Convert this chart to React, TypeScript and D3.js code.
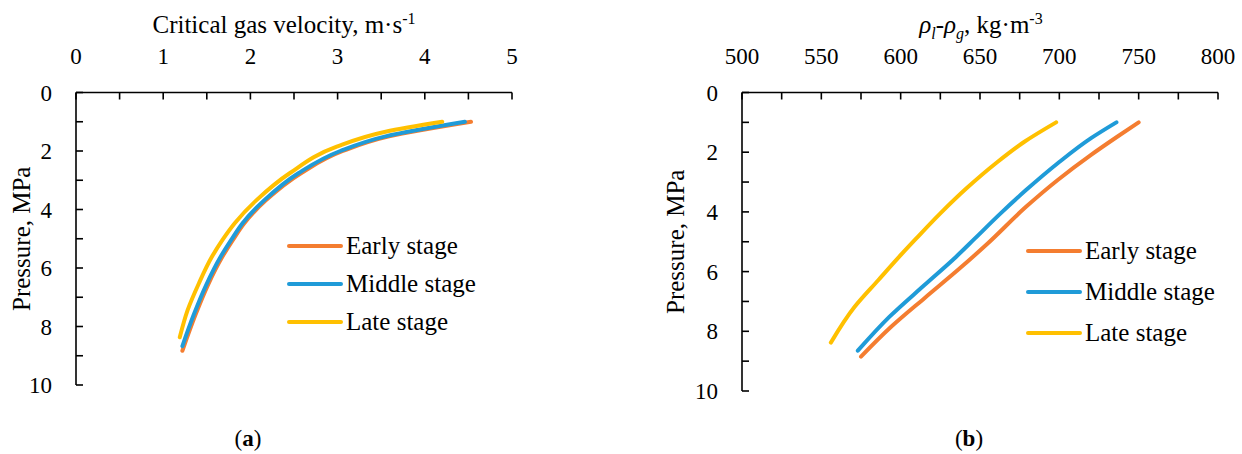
import React from "react";
import * as d3 from "d3";

// ---------- Data: panel (a) critical gas velocity vs pressure ----------
const pressureEarlyA = [1.0, 1.5, 2.0, 2.76, 3.68, 4.47, 5.04, 5.61, 6.6, 7.6, 8.83];
const velocityEarlyA = [4.53, 3.59, 3.06, 2.58, 2.18, 1.93, 1.8, 1.68, 1.51, 1.37, 1.22];
const pressureMiddleA = [1.0, 1.5, 2.0, 2.76, 3.68, 4.47, 5.04, 5.61, 6.6, 7.6, 8.67];
const velocityMiddleA = [4.46, 3.55, 3.03, 2.55, 2.16, 1.91, 1.78, 1.66, 1.49, 1.35, 1.22];
const pressureLateA = [1.0, 1.34, 1.85, 2.76, 3.68, 4.47, 5.04, 5.61, 6.52, 7.44, 8.37];
const velocityLateA = [4.2, 3.55, 2.99, 2.45, 2.07, 1.82, 1.68, 1.56, 1.41, 1.28, 1.19];

// ---------- Data: panel (b) density difference vs pressure ----------
const pressureEarlyB = [1.0, 1.5, 2.09, 2.93, 3.83, 5.05, 5.95, 6.89, 7.85, 8.85];
const densityEarlyB = [750, 736, 720, 699, 679, 655, 636, 615, 594, 575];
const pressureMiddleB = [1.0, 1.53, 2.37, 3.27, 4.05, 4.88, 5.5, 6.45, 7.51, 8.65];
const densityMiddleB = [736, 720, 699, 679, 663, 647, 635, 615, 593, 573];
const pressureLateB = [1.0, 1.65, 2.37, 3.21, 4.05, 4.88, 5.39, 6.28, 7.18, 8.38];
const densityLateB = [698, 678, 660, 641.5, 625, 610, 601, 586, 571, 556];

const seriesNames = ["Early stage", "Middle stage", "Late stage"];
const seriesColors = ["#F47D30", "#1F9BD8", "#FFC000"];

const xTicksA = [0, 1, 2, 3, 4, 5];
const xTicksB = [500, 550, 600, 650, 700, 750, 800];
const yTicks = [0, 2, 4, 6, 8, 10];

const FONT = "Liberation Serif, DejaVu Serif, serif";

type Series = { name: string; color: string; p: number[]; v: number[] };

function Panel(props: {
  x0: number; x1: number; y0: number; y1: number;
  xDomain: [number, number]; xMinorStep: number; xTicks: number[];
  series: Series[]; legendX: number; legendY: number; legendGap: number;
  yLabelX: number; title: React.ReactNode; titleX: number; tag: string; tagX: number;
}) {
  const { x0, x1, y0, y1, xDomain, xMinorStep, xTicks, series } = props;
  const xs = d3.scaleLinear().domain(xDomain).range([x0, x1]);
  const ys = d3.scaleLinear().domain([0, 10]).range([y0, y1]);
  const minorX = d3.range(xDomain[0], xDomain[1] + xMinorStep / 2, xMinorStep);
  const minorY = d3.range(0, 10.5, 1);
  const line = d3
    .line<[number, number]>()
    .x((d) => xs(d[1]))
    .y((d) => ys(d[0]))
    .curve(d3.curveMonotoneY);
  const tickLen = 7;
  return (
    <g style={{ fontFamily: FONT }} fill="#000">
      <line x1={x0} x2={x1} y1={y0} y2={y0} stroke="#000" strokeWidth={1.6} />
      <line x1={x0} x2={x0} y1={y0} y2={y1} stroke="#000" strokeWidth={1.6} />
      {minorX.map((t) => (
        <line key={"xt" + t} x1={xs(t)} x2={xs(t)} y1={y0} y2={y0 + tickLen} stroke="#000" strokeWidth={1.6} />
      ))}
      {minorY.map((t) => (
        <line key={"yt" + t} x1={x0} x2={x0 + tickLen} y1={ys(t)} y2={ys(t)} stroke="#000" strokeWidth={1.6} />
      ))}
      {xTicks.map((t) => (
        <text key={"xl" + t} x={xs(t)} y={y0 - 29} fontSize={23} textAnchor="middle">
          {t}
        </text>
      ))}
      {yTicks.map((t) => (
        <text key={"yl" + t} x={x0 - 24} y={ys(t) + 8} fontSize={23} textAnchor="end">
          {t}
        </text>
      ))}
      <text
        transform={`translate(${props.yLabelX},${(y0 + y1) / 2}) rotate(-90)`}
        fontSize={25}
        textAnchor="middle"
      >
        Pressure, MPa
      </text>
      <text x={props.titleX} y={33} fontSize={25} textAnchor="middle">
        {props.title}
      </text>
      {series.map((s) => (
        <path
          key={s.name}
          d={line(s.p.map((p, i) => [p, s.v[i]] as [number, number])) || ""}
          fill="none"
          stroke={s.color}
          strokeWidth={4}
          strokeLinecap="round"
          strokeLinejoin="round"
        />
      ))}
      {series.map((s, i) => {
        const yy = props.legendY + i * props.legendGap;
        return (
          <g key={"lg" + s.name}>
            <line x1={props.legendX} x2={props.legendX + 52} y1={yy} y2={yy} stroke={s.color} strokeWidth={4} strokeLinecap="round" />
            <text x={props.legendX + 57} y={yy + 8} fontSize={25}>
              {s.name}
            </text>
          </g>
        );
      })}
      <text x={props.tagX} y={446} fontSize={23} textAnchor="middle">
        (<tspan fontWeight="bold">{props.tag}</tspan>)
      </text>
    </g>
  );
}

export default function App() {
  const seriesA: Series[] = [
    { name: seriesNames[0], color: seriesColors[0], p: pressureEarlyA, v: velocityEarlyA },
    { name: seriesNames[1], color: seriesColors[1], p: pressureMiddleA, v: velocityMiddleA },
    { name: seriesNames[2], color: seriesColors[2], p: pressureLateA, v: velocityLateA },
  ];
  const seriesB: Series[] = [
    { name: seriesNames[0], color: seriesColors[0], p: pressureEarlyB, v: densityEarlyB },
    { name: seriesNames[1], color: seriesColors[1], p: pressureMiddleB, v: densityMiddleB },
    { name: seriesNames[2], color: seriesColors[2], p: pressureLateB, v: densityLateB },
  ];
  return (
    <svg
      width={1242}
      height={454}
      style={{ position: "absolute", left: 0, top: 0, background: "#fff" }}
    >
      <rect width={1242} height={454} fill="#fff" />
      <Panel
        x0={76} x1={512} y0={92.5} y1={385}
        xDomain={[0, 5]} xMinorStep={0.5} xTicks={xTicksA}
        series={seriesA}
        legendX={289} legendY={246} legendGap={38}
        yLabelX={30}
        title={
          <>
            Critical gas velocity, m·s<tspan dy={-9} fontSize={16}>-1</tspan>
          </>
        }
        titleX={284}
        tag="a" tagX={248}
      />
      <Panel
        x0={742} x1={1218} y0={92.5} y1={391}
        xDomain={[500, 800]} xMinorStep={25} xTicks={xTicksB}
        series={seriesB}
        legendX={1028} legendY={251} legendGap={41}
        yLabelX={684}
        title={
          <>
            <tspan fontStyle="italic">ρ</tspan>
            <tspan fontStyle="italic" fontSize={16} dy={6}>l</tspan>
            <tspan dy={-6}>-</tspan>
            <tspan fontStyle="italic">ρ</tspan>
            <tspan fontStyle="italic" fontSize={16} dy={6}>g</tspan>
            <tspan dy={-6}>, kg·m</tspan>
            <tspan dy={-9} fontSize={16}>-3</tspan>
          </>
        }
        titleX={981}
        tag="b" tagX={969}
      />
    </svg>
  );
}
